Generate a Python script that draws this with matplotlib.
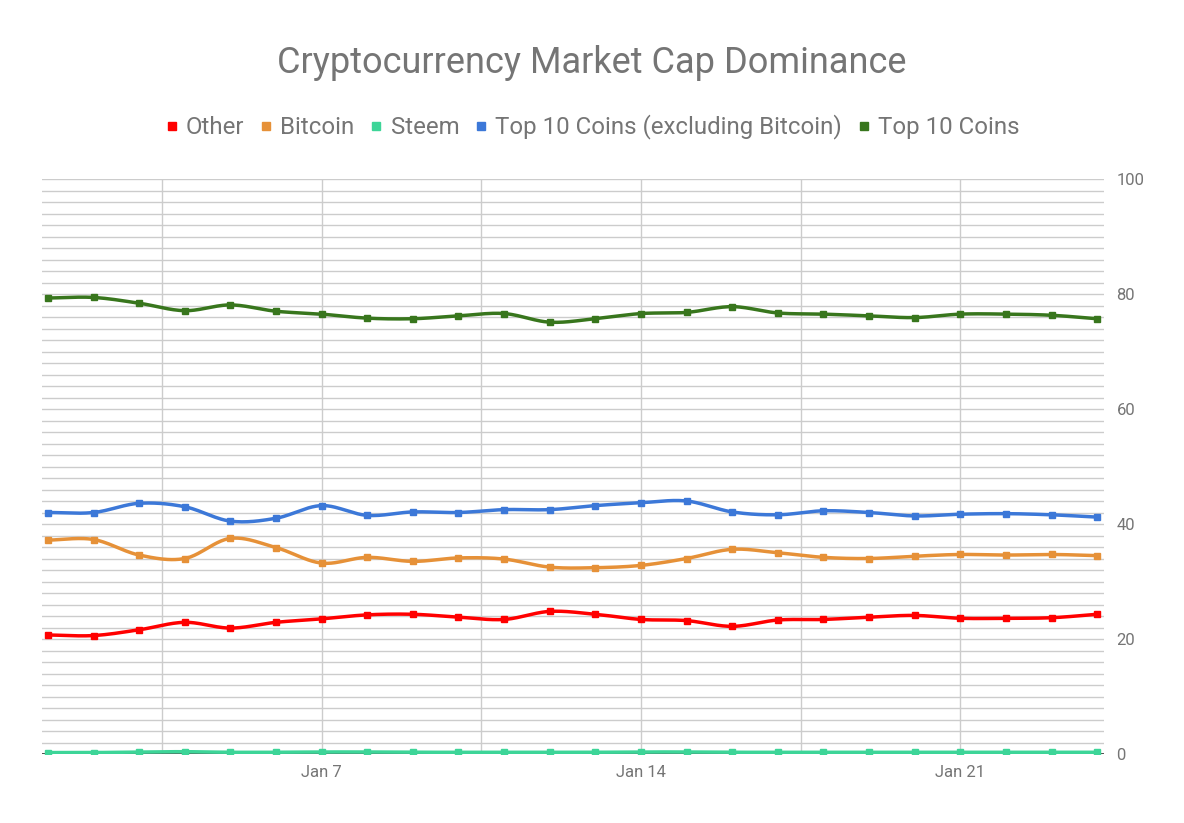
import numpy as np
import matplotlib
matplotlib.use("Agg")
import matplotlib.pyplot as plt
from matplotlib.lines import Line2D

plt.rcParams['font.family'] = ['Roboto', 'DejaVu Sans']

# ---- data (day of January, daily points) ----
days = list(range(1, 25))
other = [20.7, 20.6, 21.6, 22.9, 21.9, 22.9, 23.5, 24.2, 24.3, 23.8, 23.4, 24.8,
         24.3, 23.4, 23.2, 22.2, 23.3, 23.4, 23.8, 24.1, 23.6, 23.6, 23.7, 24.3]
bitcoin = [37.2, 37.3, 34.6, 34.0, 37.5, 35.9, 33.2, 34.2, 33.5, 34.1, 33.9, 32.5,
           32.4, 32.8, 34.0, 35.6, 35.0, 34.2, 34.0, 34.4, 34.7, 34.6, 34.7, 34.5]
steem = [0.25, 0.25, 0.35, 0.4, 0.3, 0.3, 0.35, 0.35, 0.3, 0.3, 0.3, 0.3,
         0.3, 0.35, 0.35, 0.3, 0.3, 0.3, 0.3, 0.3, 0.3, 0.3, 0.3, 0.3]
top10_ex_btc = [42.0, 42.0, 43.6, 43.0, 40.5, 41.0, 43.2, 41.5, 42.1, 42.0, 42.5, 42.5,
                43.2, 43.7, 44.0, 42.1, 41.6, 42.3, 42.0, 41.4, 41.7, 41.8, 41.6, 41.2]
top10 = [79.3, 79.4, 78.4, 77.1, 78.1, 77.0, 76.5, 75.8, 75.7, 76.2, 76.6, 75.1,
         75.7, 76.6, 76.8, 77.8, 76.7, 76.5, 76.2, 75.9, 76.5, 76.5, 76.3, 75.7]

series_names = ["Other", "Bitcoin", "Steem", "Top 10 Coins (excluding Bitcoin)", "Top 10 Coins"]
series_colors = ["#ff0000", "#e69138", "#3dd598", "#3c78d8", "#38761d"]
tick_days = [7, 14, 21]
tick_labels = ["Jan 7", "Jan 14", "Jan 21"]

TEXT = "#757575"
GRID = "#cccccc"


def smooth(x, y, n=24):
    """Catmull-Rom curve through the data points (drawing only)."""
    x = np.asarray(x, float)
    y = np.asarray(y, float)
    px = np.concatenate([[2 * x[0] - x[1]], x, [2 * x[-1] - x[-2]]])
    py = np.concatenate([[2 * y[0] - y[1]], y, [2 * y[-1] - y[-2]]])
    xs, ys = [], []
    t = np.linspace(0, 1, n, endpoint=False)
    for i in range(1, len(px) - 2):
        for arr, out in ((px, xs), (py, ys)):
            p0, p1, p2, p3 = arr[i - 1], arr[i], arr[i + 1], arr[i + 2]
            out.extend(0.5 * ((2 * p1) + (-p0 + p2) * t +
                              (2 * p0 - 5 * p1 + 4 * p2 - p3) * t ** 2 +
                              (-p0 + 3 * p1 - 3 * p2 + p3) * t ** 3))
    xs.append(x[-1])
    ys.append(y[-1])
    return np.array(xs), np.array(ys)


fig = plt.figure(figsize=(11.84, 8.23), dpi=100)
ax = fig.add_axes([42 / 1184, 69 / 823, 1062 / 1184, 575 / 823])

ax.set_xlim(0.87, 24.15)
ax.set_ylim(0, 100)

# grid
ax.set_yticks(np.arange(0, 101, 20))
ax.set_yticks(np.arange(0, 101, 2), minor=True)
ax.set_xticks(tick_days)
ax.set_xticklabels(tick_labels)
ax.set_xticks([3.5, 10.5, 17.5], minor=True)
ax.grid(True, which="both", axis="both", color=GRID, linewidth=1.0)
ax.set_axisbelow(True)
ax.yaxis.tick_right()
ax.tick_params(axis="both", which="both", length=0, colors=TEXT, labelsize=12)
ax.tick_params(axis="y", pad=9)
ax.tick_params(axis="x", pad=8)
for s in ax.spines.values():
    s.set_visible(False)
ax.axhline(0, color="#333333", linewidth=1.2, zorder=1)

all_series = [other, bitcoin, steem, top10_ex_btc, top10]
for vals, col in zip(all_series, series_colors):
    sx, sy = smooth(days, vals)
    ax.plot(sx, sy, color=col, linewidth=2.5, solid_capstyle="round", zorder=3)
    ax.plot(days, vals, linestyle="none", marker="s", markersize=4.5,
            color=col, zorder=4)

fig.text(0.5, 1 - 63 / 823, "Cryptocurrency Market Cap Dominance",
         ha="center", va="center", fontsize=26, color=TEXT)

handles = [Line2D([], [], linestyle="none", marker="s", markersize=6, color=c)
           for c in series_colors]
fig.legend(handles, series_names, loc="center", bbox_to_anchor=(0.5, 1 - 127 / 823),
           ncol=5, frameon=False, fontsize=17.3, labelcolor=TEXT,
           handletextpad=0.3, columnspacing=0.6, handlelength=0.6)

fig.savefig("out.png", dpi=100, facecolor="white")
